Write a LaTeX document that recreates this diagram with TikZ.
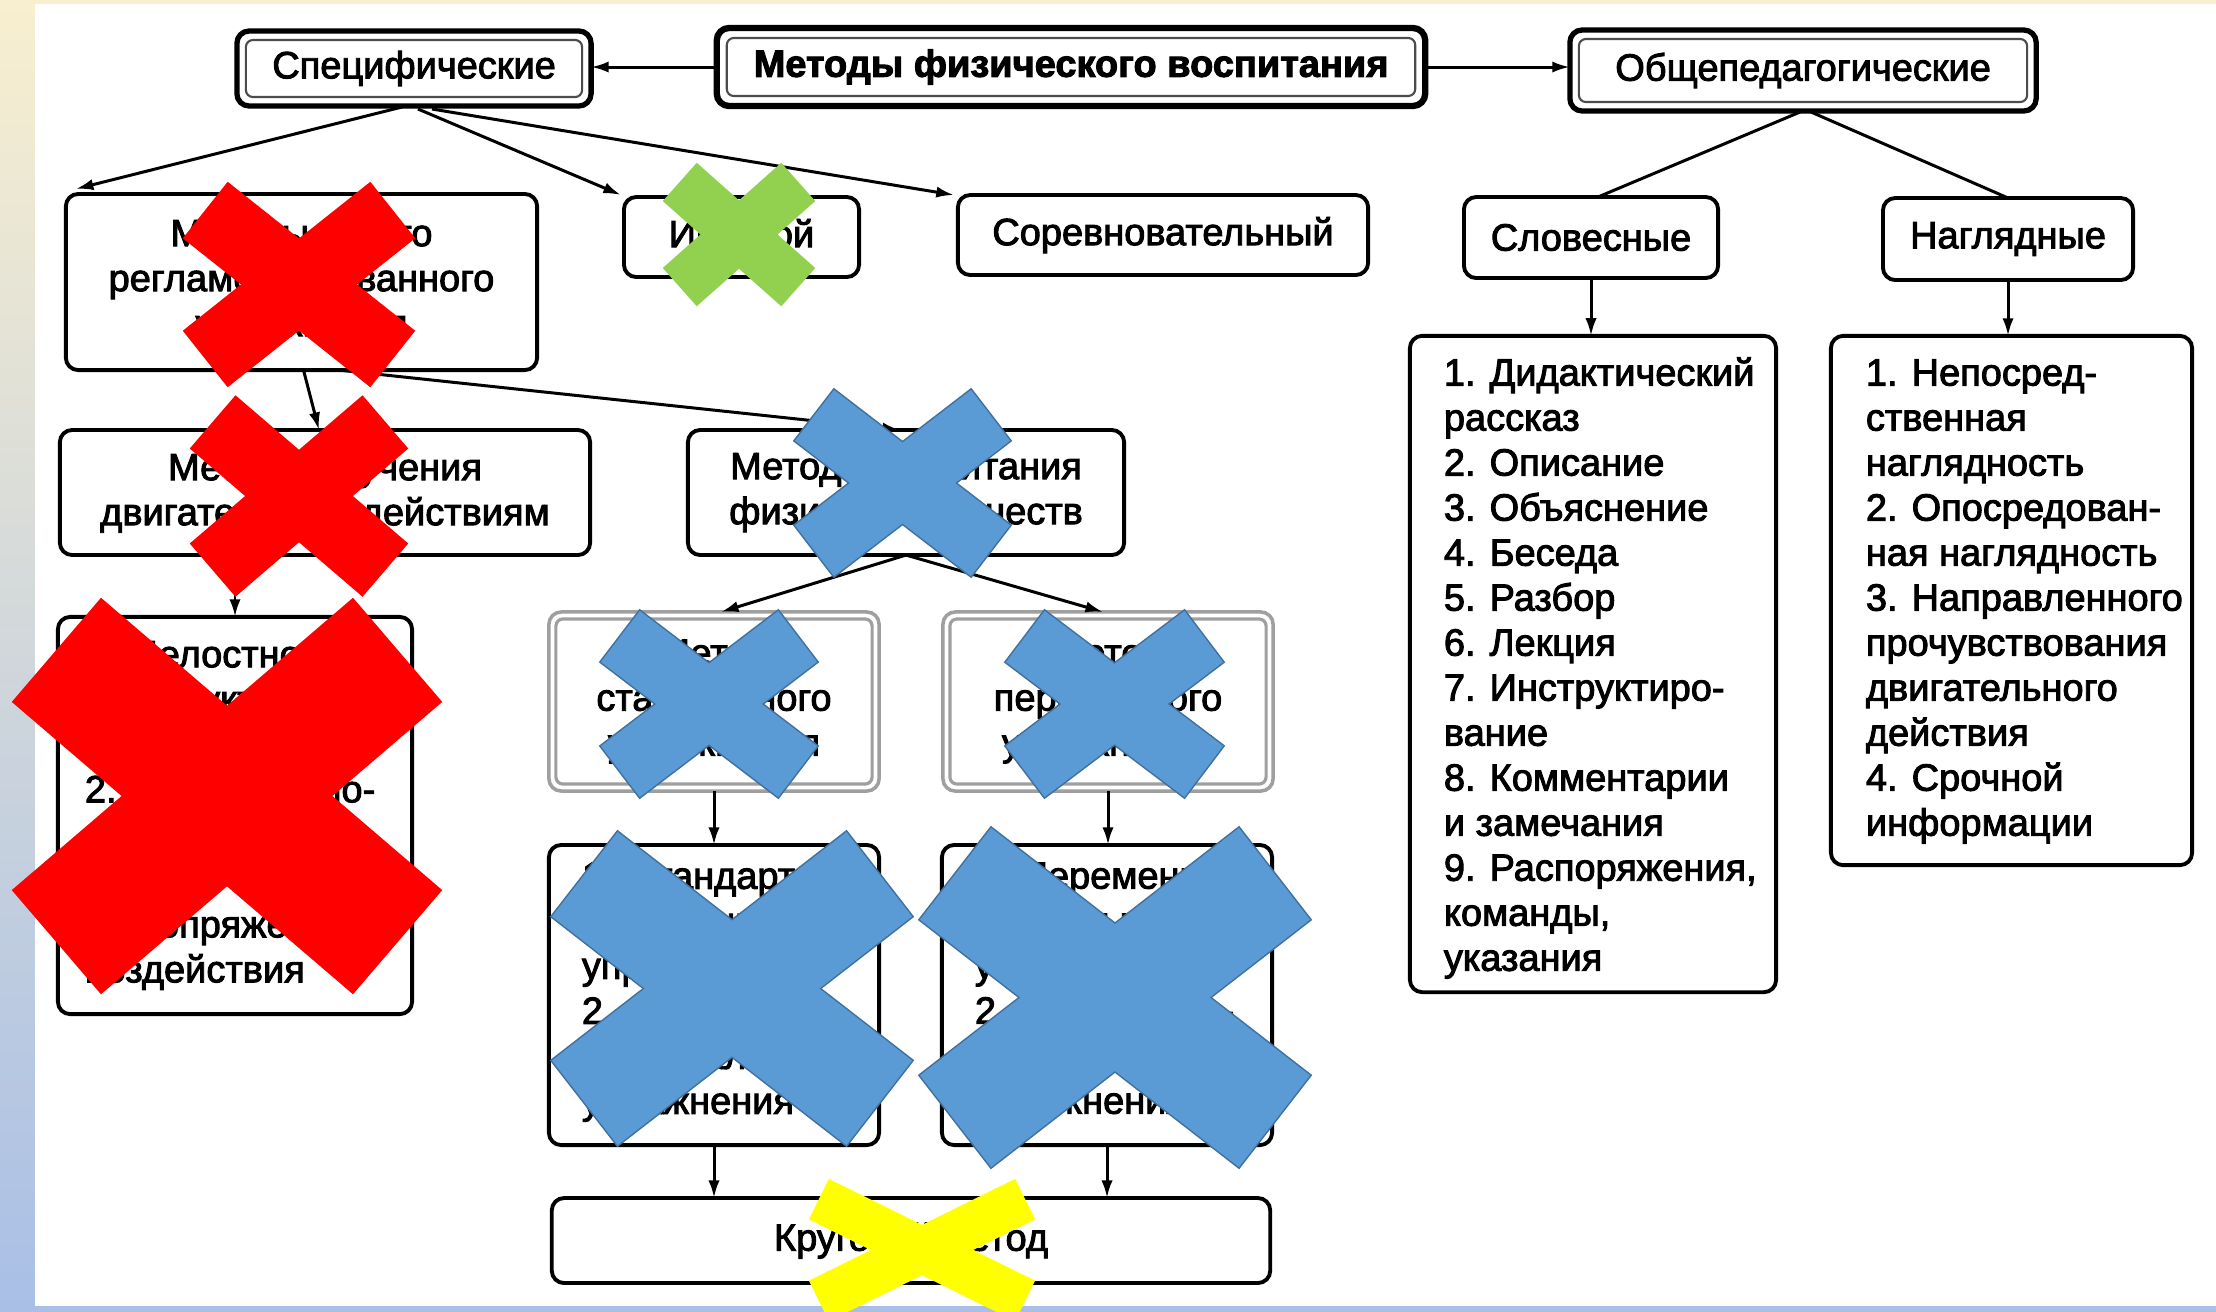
\documentclass[tikz,border=0pt]{standalone}
\usepackage{fontspec}
\newfontfamily\nf{Liberation Sans}[FakeBold=2.5]
\usetikzlibrary{arrows.meta,calc}
\definecolor{bgtop}{HTML}{F8EFD0}
\definecolor{bgbot}{HTML}{A9BFE6}
\definecolor{xred}{HTML}{FF0000}
\definecolor{xgreen}{HTML}{92D050}
\definecolor{xblue}{HTML}{5B9BD5}
\definecolor{xblueline}{HTML}{41719C}
\definecolor{xyellow}{HTML}{FFFF00}
\newcommand\mulx[7]{%
  \pgfmathsetmacro\mxT{#5/2}%
  \pgfmathsetmacro\mxA{atan2(#4,#3)}%
  \pgfmathsetmacro\mxA{atan2(#4/2-\mxT*cos(\mxA),#3/2-\mxT*sin(\mxA))}%
  \pgfmathsetmacro\mxA{atan2(#4/2-\mxT*cos(\mxA),#3/2-\mxT*sin(\mxA))}%
  \pgfmathsetmacro\mxA{atan2(#4/2-\mxT*cos(\mxA),#3/2-\mxT*sin(\mxA))}%
  \pgfmathsetmacro\mxA{atan2(#4/2-\mxT*cos(\mxA),#3/2-\mxT*sin(\mxA))}%
  \pgfmathsetmacro\mxA{atan2(#4/2-\mxT*cos(\mxA),#3/2-\mxT*sin(\mxA))}%
  \pgfmathsetmacro\mxL{(#3/2-\mxT*sin(\mxA))/cos(\mxA)}%
  \begin{scope}[shift={(#1,#2)}]
    \draw[#7, line width=0.9pt, rotate=\mxA] (-\mxL,-\mxT) -- (\mxL,-\mxT) -- (\mxL,\mxT) -- (-\mxL,\mxT) -- cycle;
    \draw[#7, line width=0.9pt, rotate=-\mxA] (-\mxL,-\mxT) -- (\mxL,-\mxT) -- (\mxL,\mxT) -- (-\mxL,\mxT) -- cycle;
    \fill[#6, rotate=\mxA] (-\mxL,-\mxT) -- (\mxL,-\mxT) -- (\mxL,\mxT) -- (-\mxL,\mxT) -- cycle;
    \fill[#6, rotate=-\mxA] (-\mxL,-\mxT) -- (\mxL,-\mxT) -- (\mxL,\mxT) -- (-\mxL,\mxT) -- cycle;
  \end{scope}}
\newcommand\bnode[7]{%
  \pgfmathsetmacro\bw{(#4-#2)*0.28453}%
  \pgfmathsetmacro\bh{(#5-#3)*0.28453}%
  \node[#6, minimum width=\bw pt, minimum height=\bh pt] (#1) at ({(#2+#4)/2},{(#3+#5)/2}) {#7};}
\newcommand\innerbox[3]{\draw[#3] ([shift={(#2,#2)}]#1.north west) rectangle ([shift={(-#2,-#2)}]#1.south east);}
\begin{document}
\begin{tikzpicture}[x=0.01cm, y=-0.01cm,
  bx/.style={draw, line width=1.1pt, rounded corners=3.5pt, inner sep=0pt, outer sep=0pt,
    align=center, font={\nf\fontsize{10.8pt}{12.8pt}\selectfont}},
  dbx/.style={bx, line width=1.5pt},
  gbx/.style={bx, draw=gray!75, line width=1pt},
  ttl/.style={bx, line width=1.8pt, font={\nf\bfseries\fontsize{10.8pt}{12.8pt}\selectfont}},
  tx/.style={inner sep=0pt, outer sep=0pt, anchor=west, align=left,
    font={\nf\fontsize{10.8pt}{12.8pt}\selectfont}},
  innl/.style={line width=0.6pt, draw=gray!60!black, rounded corners=2pt},
  ginnl/.style={line width=0.9pt, draw=gray!75, rounded corners=2pt},
  ln/.style={line width=0.85pt},
  arr/.style={line width=0.85pt, -{Latex[length=5pt,width=3.2pt]}}]
\useasboundingbox (0,0) rectangle (2216,1311);
\begin{scope}
\clip (0,0) rectangle (2216,1311);
\fill[top color=bgtop, bottom color=bgbot] (0,0) rectangle (2216,1311);
\fill[white] (35,4) rectangle (2216,1306);

% nodes
\bnode{main}{717}{28}{1425}{106}{ttl}{Методы физического воспитания}
\innerbox{main}{10}{innl}
\bnode{spec}{237}{31}{591}{106}{dbx}{Специфические}
\innerbox{spec}{9}{innl}
\bnode{obsh}{1570}{30}{2036}{111}{dbx}{Общепедагогические}
\innerbox{obsh}{9}{innl}
\bnode{b4}{66}{194}{537}{370}{bx}{Методы строго\\регламентированного\\упражнения}
\bnode{igr}{624}{197}{859}{277}{bx}{Игровой}
\bnode{sor}{958}{195}{1368}{275}{bx}{Соревновательный}
\bnode{slov}{1464}{197}{1718}{278}{bx}{Словесные}
\bnode{nagl}{1883}{198}{2133}{280}{bx}{Наглядные}
\bnode{b17}{1410}{336}{1776}{992}{bx}{}
\node[tx] (t17) at ($(b17.west)+(34,4)$) {1. Дидактический\\рассказ\\2. Описание\\3. Объяснение\\4. Беседа\\5. Разбор\\6. Лекция\\7. Инструктиро-\\вание\\8. Комментарии\\и замечания\\9. Распоряжения,\\команды,\\указания};
\bnode{b18}{1831}{336}{2192}{865}{bx}{}
\node[tx] (t18) at ($(b18.west)+(35,1)$) {1. Непосред-\\ственная\\наглядность\\2. Опосредован-\\ная наглядность\\3. Направленного\\прочувствования\\двигательного\\действия\\4. Срочной\\информации};
\bnode{b9}{60}{430}{590}{555}{bx}{Методы обучения\\двигательным действиям}
\bnode{b10}{688}{430}{1124}{555}{bx}{Методы воспитания\\физических качеств}
\bnode{b11}{58}{617}{412}{1014}{bx}{}
\node[tx] (t11) at ($(b11.west)+(27,0)$) {1. Целостно-\\конструктив-\\ный\\2. Расчлененно-\\конструктив-\\ный\\3. Сопряженного\\воздействия};
\bnode{b12}{549}{612}{879}{791}{gbx}{Метод\\стандартного\\упражнения}
\innerbox{b12}{7}{ginnl}
\bnode{b13}{943}{612}{1273}{791}{gbx}{Метод\\переменного\\упражнения}
\innerbox{b13}{7}{ginnl}
\bnode{b14}{549}{845}{879}{1145}{bx}{}
\node[tx] (t14) at ($(b14.west)+(33,-3)$) {1. Стандартно-\\непрерывного\\упражнения\\2. Стандартно-\\интервального\\упражнения};
\bnode{b15}{942}{845}{1272}{1145}{bx}{}
\node[tx] (t15) at ($(b15.west)+(33,-3)$) {1. Переменно-\\непрерывного\\упражнения\\2. Переменно-\\интервального\\упражнения};
\bnode{b16}{552}{1198}{1270}{1283}{bx}{Круговой метод}

% connectors
\draw[arr] (main.west) -- (main.west -| spec.east);
\draw[arr] (main.east) -- (main.east -| obsh.west);
\draw[arr] ($(spec.south)+(-12,1)$) -- ($(b4.north west)+(10,-5)$);
\draw[arr] ($(spec.south)+(4,3)$) -- ($(igr.north west)+(-3,-2)$);
\draw[arr] ($(spec.south)+(18,3)$) -- ($(sor.north west)+(-4,0)$);
\draw[ln] ($(obsh.south)+(-3,1)$) -- ($(slov.north)+(7,0)$);
\draw[ln] ($(obsh.south)+(8,1)$) -- (nagl.north);
\draw[arr] (slov.south) -- (slov.south |- b17.north);
\draw[arr] (nagl.south) -- (nagl.south |- b18.north);
\draw[arr] ($(b4.south)+(2,0)$) -- ($(b9.north)+(-6,0)$);
\draw[arr] ($(b4.south)+(37,0)$) -- ($(b10.north)+(-6,0)$);
\draw[arr] (b11.north |- b9.south) -- (b11.north);
\draw[arr] (b10.south) -- ($(b12.north)+(7,0)$);
\draw[arr] (b10.south) -- ($(b13.north)+(-5,0)$);
\draw[arr] (b12.south) -- (b12.south |- b14.north);
\draw[arr] (b13.south) -- (b13.south |- b15.north);
\draw[arr] (b14.south) -- (b14.south |- b16.north);
\draw[arr] (b15.south) -- (b15.south |- b16.north);

% crosses
\mulx{299}{284.5}{228}{201}{69}{xred}{xred}
\mulx{299}{496}{214}{197}{67}{xred}{xred}
\mulx{227}{796}{426}{392}{134}{xred}{xred}
\mulx{739}{234.5}{148}{139}{48}{xgreen}{xgreen}
\mulx{902.5}{483}{215}{186}{64}{xblue}{xblueline}
\mulx{709}{704}{216}{186}{64}{xblue}{xblueline}
\mulx{1114.5}{704}{217}{186}{64}{xblue}{xblueline}
\mulx{732}{988.5}{360}{313}{107}{xblue}{xblueline}
\mulx{1115}{997.5}{390}{339}{116}{xblue}{xblueline}
\mulx{922}{1250}{222}{138}{42}{xyellow}{xyellow}
\end{scope}
\end{tikzpicture}
\end{document}
